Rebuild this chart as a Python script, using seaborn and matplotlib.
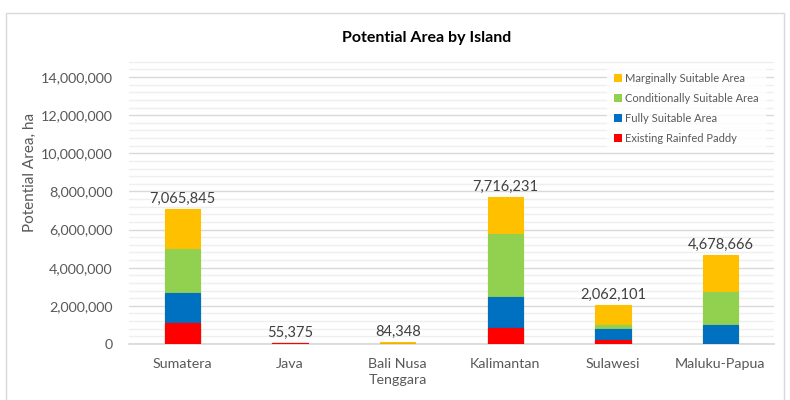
import matplotlib
matplotlib.use("Agg")
import matplotlib.pyplot as plt
from matplotlib.patches import Rectangle, Patch
from matplotlib.ticker import MultipleLocator, FuncFormatter
import pandas as pd
import seaborn as sns

islands = ["Sumatera", "Java", "Bali Nusa\nTenggara", "Kalimantan", "Sulawesi", "Maluku-Papua"]
existing_rainfed = [1085000, 55375, 0, 855000, 200000, 0]
fully_suitable = [1575000, 0, 0, 1590000, 570000, 975000]
conditionally_suitable = [2300000, 0, 0, 3320000, 240000, 1760000]
marginally_suitable = [2105845, 0, 84348, 1951231, 1052101, 1943666]

series_names = ["Existing Rainfed Paddy", "Fully Suitable Area",
                "Conditionally Suitable Area", "Marginally Suitable Area"]
series_colors = ["#FF0000", "#0070C0", "#92D050", "#FFC000"]

sns.set_theme(style="white")
plt.rcParams["font.family"] = ["Lato", "DejaVu Sans"]
text_color = "#595959"

df = pd.DataFrame({
    "island": islands,
    series_names[0]: existing_rainfed,
    series_names[1]: fully_suitable,
    series_names[2]: conditionally_suitable,
    series_names[3]: marginally_suitable,
})

fig = plt.figure(figsize=(7.9, 4.0), dpi=100)
ax = fig.add_axes([0.163, 0.14, 0.817, 0.715])

# stacked bars: draw cumulative heights from the top layer down
cum = df[series_names].cumsum(axis=1)
for name, color in reversed(list(zip(series_names, series_colors))):
    sns.barplot(x=df["island"], y=cum[name], color=color, width=0.33,
                saturation=1, edgecolor=color, linewidth=0.8, ax=ax, zorder=3)

totals = cum[series_names[-1]]
for i, t in enumerate(totals):
    ax.text(i, t + 170000, f"{int(t):,}", ha="center", va="bottom",
            fontsize=10.5, color="#404040", zorder=4)

ax.set_ylim(0, 15000000)
ax.yaxis.set_major_locator(MultipleLocator(2000000))
ax.yaxis.set_minor_locator(MultipleLocator(400000))
ax.yaxis.set_major_formatter(FuncFormatter(lambda v, p: f"{int(v):,}"))
ax.set_yticks([v for v in range(0, 14000001, 2000000)])
ax.grid(axis="y", which="major", color="#D9D9D9", linewidth=1.0, zorder=0)
ax.grid(axis="y", which="minor", color="#EFEFEF", linewidth=1.0, zorder=0)
ax.set_axisbelow(True)
for s in ["top", "right", "left"]:
    ax.spines[s].set_visible(False)
ax.spines["bottom"].set_color("#D9D9D9")
ax.tick_params(axis="both", which="both", length=0, colors=text_color, labelsize=10.3)
ax.tick_params(axis="y", pad=11.5)
ax.tick_params(axis="x", pad=10)
for lbl in ax.get_xticklabels():
    lbl.set_linespacing(1.45)
ax.set_xlabel("")
ax.set_ylabel("Potential Area, ha", color=text_color, fontsize=11)
ax.yaxis.set_label_coords(-0.142, 0.6)
ax.set_xlim(-0.5, len(islands) - 0.5)

fig.text(0.54, 0.905, "Potential Area by Island", ha="center", va="center",
         fontsize=11.5, fontweight="bold", color="#000000")

handles = [Patch(facecolor=c, edgecolor="none") for c in reversed(series_colors)]
leg = ax.legend(handles, list(reversed(series_names)), loc="upper right",
                bbox_to_anchor=(0.995, 0.99), frameon=True, fontsize=8,
                handlelength=0.7, handleheight=0.7, handletextpad=0.3,
                labelspacing=0.8, borderpad=0.6, fancybox=False)
leg.get_frame().set_edgecolor("white")
leg.get_frame().set_facecolor("white")
for t in leg.get_texts():
    t.set_color(text_color)

fig.patches.append(Rectangle((6 / 790, -0.1), 778 / 790, 1.0 - 13 / 400 + 0.1,
                             transform=fig.transFigure, fill=False,
                             edgecolor="#D9D9D9", linewidth=1.0))

fig.savefig("out.png", dpi=100)
